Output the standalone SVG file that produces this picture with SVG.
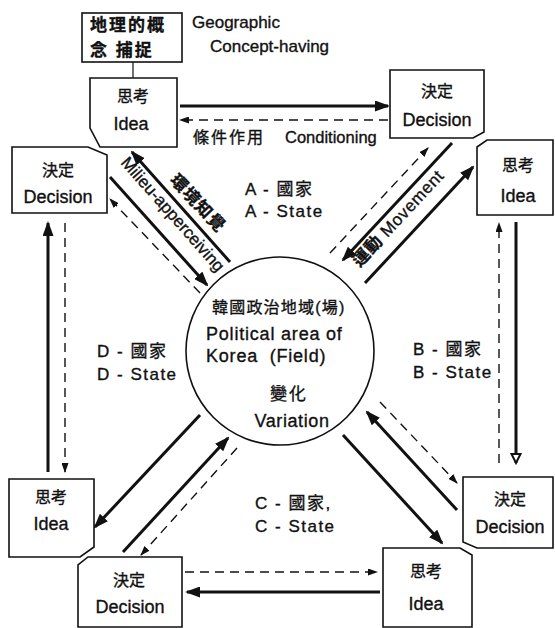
<svg xmlns="http://www.w3.org/2000/svg" width="555" height="628" viewBox="0 0 555 628">
<style>
text{font-family:"Liberation Sans","Noto Sans CJK KR","Noto Sans CJK TC",sans-serif;fill:#111;stroke:#111;stroke-width:0.35px}
.lb{font-size:18px;text-anchor:middle}
.ck{font-size:16px;text-anchor:middle}
.st{font-size:17px;letter-spacing:1.5px}
.box{fill:#fff;stroke:#111;stroke-width:1.6}
.sol{fill:none;stroke:#111;stroke-width:3}
.das{fill:none;stroke:#111;stroke-width:1.4;stroke-dasharray:9 6}
</style>
<defs>
<marker id="ah" markerUnits="userSpaceOnUse" markerWidth="15" markerHeight="11" viewBox="0 0 15 11" refX="13" refY="5.5" orient="auto"><path d="M0,0 L15,5.5 L0,11 z" fill="#111"/></marker>
<marker id="ad" markerUnits="userSpaceOnUse" markerWidth="10" markerHeight="7" viewBox="0 0 10 7" refX="9" refY="3.5" orient="auto"><path d="M0,0 L10,3.5 L0,7 z" fill="#111"/></marker>
<marker id="ao" markerUnits="userSpaceOnUse" markerWidth="12" markerHeight="12" viewBox="0 0 12 12" refX="10" refY="6" orient="auto"><path d="M1,1.5 L10,6 L1,10.5 z" fill="#fff" stroke="#111" stroke-width="2"/></marker>
</defs>

<g id="connectors">
<line class="sol" x1="133" y1="62" x2="133" y2="78" style="stroke-width:1.2"/>
<line class="sol" x1="180" y1="106" x2="388" y2="106" marker-end="url(#ah)"/>
<line class="das" x1="388" y1="120" x2="180" y2="120" marker-end="url(#ad)"/>
<line class="sol" x1="230" y1="262" x2="132" y2="152" marker-end="url(#ah)"/>
<line class="sol" x1="110" y1="177" x2="207" y2="285" marker-end="url(#ah)"/>
<line class="das" x1="200" y1="293" x2="110" y2="199" marker-end="url(#ad)"/>
<line class="sol" x1="452" y1="143" x2="343" y2="260" marker-end="url(#ah)"/>
<line class="sol" x1="365" y1="283" x2="473" y2="167" marker-end="url(#ah)"/>
<line class="das" x1="330" y1="253" x2="428" y2="148" marker-end="url(#ad)"/>
<line class="sol" x1="48" y1="472" x2="48" y2="223" marker-end="url(#ah)"/>
<line class="das" x1="65" y1="223" x2="65" y2="472" marker-end="url(#ad)"/>
<line class="sol" x1="516" y1="222" x2="516" y2="463" marker-end="url(#ao)"/>
<line class="das" x1="499" y1="463" x2="499" y2="223" marker-end="url(#ad)"/>
<line class="sol" x1="200" y1="415" x2="95" y2="527" marker-end="url(#ah)"/>
<line class="sol" x1="123" y1="552" x2="228" y2="438" marker-end="url(#ah)"/>
<line class="das" x1="237" y1="448" x2="141" y2="555" marker-end="url(#ad)"/>
<line class="sol" x1="457" y1="510" x2="367" y2="412" marker-end="url(#ah)"/>
<line class="sol" x1="343" y1="435" x2="442" y2="543" marker-end="url(#ah)"/>
<line class="das" x1="380" y1="402" x2="457" y2="483" marker-end="url(#ad)"/>
<line class="das" x1="185" y1="572" x2="377" y2="572" marker-end="url(#ad)"/>
<line class="sol" x1="380" y1="592" x2="187" y2="592" marker-end="url(#ah)"/>
</g>

<g id="geo">
<rect class="box" x="82" y="13" width="100" height="49"/>
<text x="90" y="31" style="font-size:17px;letter-spacing:2px;font-weight:bold">地理的概</text>
<text x="90" y="56" style="font-size:17px;letter-spacing:2px;font-weight:bold">念 捕捉</text>
<text x="192" y="28" style="font-size:17px">Geographic</text>
<text x="210" y="52" style="font-size:17px">Concept-having</text>
</g>

<g id="idea-a">
<path class="box" d="M90,78 H177 V147 H100 L90,128 Z"/>
<text class="ck" x="133" y="102">思考</text>
<text class="lb" x="131" y="130">Idea</text>
</g>

<g id="decision-a">
<path class="box" d="M390,70 H484 V132 L473,138 H390 Z"/>
<text class="ck" x="437" y="97">決定</text>
<text class="lb" x="437" y="126">Decision</text>
</g>

<g id="cond-label">
<text x="193" y="143" style="font-size:16px;letter-spacing:2px">條件作用</text>
<text x="285" y="143" style="font-size:16.5px">Conditioning</text>
</g>

<g id="idea-b">
<path class="box" d="M477,147 L487,140 H553 V215 H477 Z"/>
<text class="ck" x="518" y="171">思考</text>
<text class="lb" x="518" y="202">Idea</text>
</g>

<g id="decision-d">
<path class="box" d="M12,147 H88 L107,155 V213 H12 Z"/>
<text class="ck" x="58" y="176">決定</text>
<text class="lb" x="58" y="203">Decision</text>
</g>

<g id="labels-rot">
<g transform="translate(198,203) rotate(47)"><text x="0" y="6" style="font-size:17px;font-weight:bold;text-anchor:middle;letter-spacing:1px">環境知覺</text></g>
<g transform="translate(173,214) rotate(48.5)"><text x="0" y="6" style="font-size:17px;text-anchor:middle">Milieu-apperceiving</text></g>
<g transform="translate(398,218) rotate(-47)"><text x="0" y="6" style="font-size:17px;text-anchor:middle;letter-spacing:0.6px"><tspan style="font-weight:bold">運動</tspan> Movement</text></g>
</g>

<g id="state-labels">
<text class="st" x="245" y="195">A - 國家</text>
<text class="st" x="245" y="217">A - State</text>
<text class="st" x="413" y="355">B - 國家</text>
<text class="st" x="413" y="378">B - State</text>
<text class="st" x="255" y="509">C - 國家,</text>
<text class="st" x="255" y="532">C - State</text>
<text class="st" x="97" y="357">D - 國家</text>
<text class="st" x="97" y="380">D - State</text>
</g>

<g id="field">
<circle cx="280" cy="351" r="94" fill="#fff" stroke="#111" stroke-width="1.6"/>
<text x="212" y="313" style="font-size:16px;letter-spacing:1.2px">韓國政治地域(場)</text>
<text x="206" y="340" style="font-size:18px;letter-spacing:0.8px">Political area of</text>
<text x="206" y="362" style="font-size:18px;letter-spacing:0.8px" xml:space="preserve">Korea  (Field)</text>
<text x="289" y="400" style="font-size:17px;text-anchor:middle;letter-spacing:2px">變化</text>
<text x="292" y="427" style="font-size:18px;text-anchor:middle;letter-spacing:0.6px">Variation</text>
</g>

<g id="idea-d">
<path class="box" d="M9,479 H94 V547 L80,557 H9 Z"/>
<text class="ck" x="51" y="503">思考</text>
<text class="lb" x="51" y="530">Idea</text>
</g>

<g id="decision-c">
<path class="box" d="M88,557 H182 V627 H78 V565 Z"/>
<text class="ck" x="129" y="586">決定</text>
<text class="lb" x="130" y="613">Decision</text>
</g>

<g id="idea-c">
<path class="box" d="M383,548 H460 L472,555 V627 H383 Z"/>
<text class="ck" x="426" y="577">思考</text>
<text class="lb" x="426" y="610">Idea</text>
</g>

<g id="decision-b">
<path class="box" d="M463,477 H553 V548 H477 L463,542 Z"/>
<text class="ck" x="510" y="505">決定</text>
<text class="lb" x="510" y="533">Decision</text>
</g>
</svg>
